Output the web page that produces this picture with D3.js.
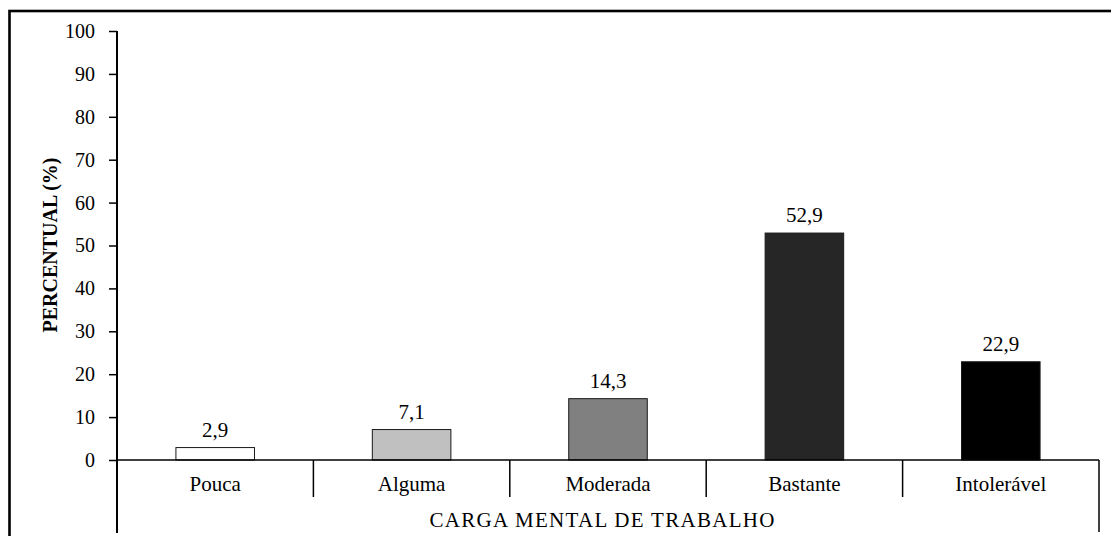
<!DOCTYPE html>
<html>
<head>
<meta charset="utf-8">
<script src="https://cdn.jsdelivr.net/npm/d3@7"></script>
<style>
  body { margin: 0; background: #fff; }
</style>
</head>
<body>
<svg id="chart"></svg>
<script>
// data
var categories = ["Pouca", "Alguma", "Moderada", "Bastante", "Intolerável"];
var values = [2.9, 7.1, 14.3, 52.9, 22.9];
var valueLabels = ["2,9", "7,1", "14,3", "52,9", "22,9"];
var fills = ["#ffffff", "#c0c0c0", "#808080", "#262626", "#000000"];
var yTicks = [0, 10, 20, 30, 40, 50, 60, 70, 80, 90, 100];
var yLabel = "PERCENTUAL (%)";
var groupLabel = "CARGA MENTAL DE TRABALHO";

var FONT = "Liberation Serif, DejaVu Serif, serif";

var W = 1111, H = 536;
var margin = { top: 31, right: 12, bottom: 76, left: 117 },
    width = 1099 - margin.left,
    height = 460 - margin.top;

var svg = d3.select("#chart")
    .attr("width", W)
    .attr("height", H)
    .attr("font-family", FONT);

// outer frame (cut off at right and bottom like the original)
svg.append("rect")
    .attr("x", 9.5)
    .attr("y", 11)
    .attr("width", 1300)
    .attr("height", 700)
    .attr("fill", "none")
    .attr("stroke", "#000")
    .attr("stroke-width", 2.6);

var g = svg.append("g")
    .attr("transform", "translate(" + margin.left + "," + margin.top + ")");

var x = d3.scaleBand()
    .domain(categories)
    .range([0, width])
    .padding(0);

var y = d3.scaleLinear()
    .domain([0, 100])
    .range([height, 0]);

var barW = x.bandwidth() * 0.4;

// bars
g.selectAll(".bar")
    .data(categories)
    .enter().append("rect")
    .attr("class", "bar")
    .attr("x", function(d) { return x(d) + (x.bandwidth() - barW) / 2; })
    .attr("y", function(d, i) { return y(values[i]); })
    .attr("width", barW)
    .attr("height", function(d, i) { return height - y(values[i]); })
    .attr("fill", function(d, i) { return fills[i]; })
    .attr("stroke", "#1a1a1a")
    .attr("stroke-width", 1);

// value labels
g.selectAll(".val")
    .data(categories)
    .enter().append("text")
    .attr("class", "val")
    .attr("x", function(d) { return x(d) + x.bandwidth() / 2; })
    .attr("y", function(d, i) { return y(values[i]) - 11; })
    .attr("text-anchor", "middle")
    .attr("font-family", FONT)
    .style("font-size", "21px")
    .text(function(d, i) { return valueLabels[i]; });

// y axis
var yAxis = g.append("g")
    .call(d3.axisLeft(y).tickValues(yTicks).tickSize(8).tickPadding(14).tickSizeOuter(0))
    .attr("font-family", FONT)
    .attr("font-size", 20);
yAxis.select(".domain").remove();
yAxis.selectAll(".tick line").attr("stroke", "#000").attr("stroke-width", 1.5);
yAxis.selectAll(".tick text").attr("fill", "#000");

// y axis line runs down through the category area
g.append("line")
    .attr("x1", 0).attr("x2", 0)
    .attr("y1", y(100)).attr("y2", 502)
    .attr("stroke", "#000").attr("stroke-width", 2);

// x axis line
g.append("line")
    .attr("x1", 0).attr("x2", width)
    .attr("y1", height).attr("y2", height)
    .attr("stroke", "#000").attr("stroke-width", 1.5);

// category dividers
var edges = categories.slice(1).map(function(d) { return x(d); });
g.selectAll(".div")
    .data(edges)
    .enter().append("line")
    .attr("x1", function(d) { return d; })
    .attr("x2", function(d) { return d; })
    .attr("y1", height)
    .attr("y2", height + 37)
    .attr("stroke", "#000").attr("stroke-width", 1.5);

g.append("line")
    .attr("x1", width).attr("x2", width)
    .attr("y1", height).attr("y2", height + 72)
    .attr("stroke", "#000").attr("stroke-width", 1.5);

// category labels
g.selectAll(".cat")
    .data(categories)
    .enter().append("text")
    .attr("class", "cat")
    .attr("x", function(d) { return x(d) + x.bandwidth() / 2; })
    .attr("y", height + 31)
    .attr("text-anchor", "middle")
    .attr("font-family", FONT)
    .style("font-size", "21px")
    .text(function(d) { return d; });

// group label
g.append("text")
    .attr("x", width / 2 - 6)
    .attr("y", height + 67)
    .attr("text-anchor", "middle")
    .attr("font-family", FONT)
    .style("font-size", "21px")
    .attr("textLength", 345)
    .text(groupLabel);

// y axis title
svg.append("text")
    .attr("transform", "translate(57,245) rotate(-90)")
    .attr("text-anchor", "middle")
    .attr("font-family", FONT)
    .style("font-size", "20px")
    .style("font-weight", "bold")
    .text(yLabel);
</script>
</body>
</html>
